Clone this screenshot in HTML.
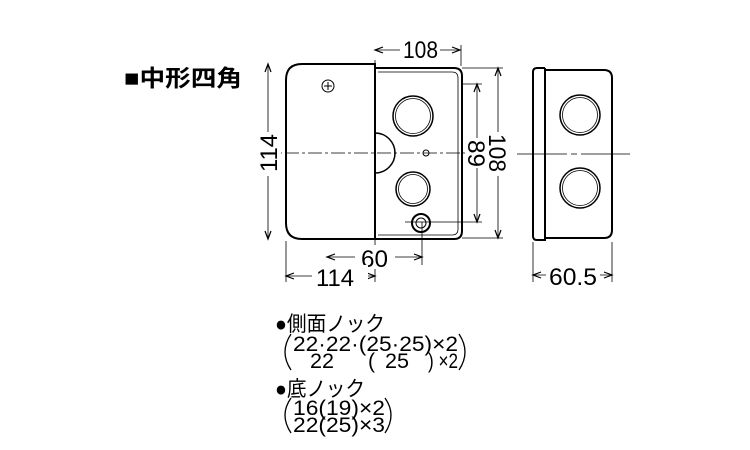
<!DOCTYPE html>
<html><head><meta charset="utf-8"><style>
body{margin:0;background:#fff;width:750px;height:450px;overflow:hidden}
svg{display:block}
text{font-family:"Liberation Sans","Noto Sans CJK JP",sans-serif;fill:#000}
</style></head><body>
<svg width="750" height="450" viewBox="0 0 750 450" xmlns="http://www.w3.org/2000/svg">
<text x="124" y="86" font-size="23" font-weight="bold" textLength="118" lengthAdjust="spacingAndGlyphs">■中形四角</text>
<g fill="none" stroke="#000">
<path d="M375,68H454Q462,68 462,76V231Q462,239 454,239H375" stroke-width="2"/>
<path d="M378,72H452Q458,72 458,78V229Q458,235 452,235H378" stroke-width="0.8"/>
<circle cx="413" cy="116" r="20" stroke-width="1.5"/><circle cx="413" cy="116" r="17.5" stroke-width="0.8"/>
<circle cx="413" cy="189" r="17" stroke-width="1.5"/><circle cx="413" cy="189" r="14.5" stroke-width="0.8"/>
<path d="M375,133A20,20 0 0 1 375,173" stroke-width="1.5"/>
<circle cx="426" cy="153" r="3"/>
<circle cx="421" cy="223" r="9" stroke-width="2"/><circle cx="421" cy="223" r="5"/>
<path d="M375,64H302Q286,64 286,80V223Q286,239 302,239H375Z" fill="#fff" stroke-width="2"/>
<circle cx="328" cy="86" r="6"/><path d="M324,86h8M328,82v8"/>
<path d="M262,153H466" stroke-width="0.8" stroke-dasharray="14,3,3,3"/>
<path d="M461,45V66M462,68H503M462,238H503M462,84H482M405,222H482M422,222V265M286,241V282M375,60V282M533,242V282M612,242V282" stroke-width="0.8"/>
<path d="M375,50H460M268,64V239M477,84V222M498,68V238M327,257H422M286,276H375M533,275H612" stroke-width="0.8"/>
<g stroke-width="1.2">
<path d="M383,47L375,50L383,53M452,47L460,50L452,53"/>
<path d="M265,72L268,64L271,72M265,231L268,239L271,231"/>
<path d="M474,92L477,84L480,92M474,214L477,222L480,214"/>
<path d="M495,76L498,68L501,76M495,230L498,238L501,230"/>
<path d="M335,254L327,257L335,260M414,254L422,257L414,260"/>
<path d="M294,273L286,276L294,279M367,273L375,276L367,279"/>
<path d="M541,272L533,275L541,278M604,272L612,275L604,278"/>
</g>
<path d="M545,70H604Q612,70 612,78V230Q612,238 604,238H545" stroke-width="2"/>
<path d="M545,68V240H537Q533,240 533,236V72Q533,68 537,68H545" fill="#fff" stroke-width="2"/>
<circle cx="580" cy="115" r="20" stroke-width="1.5"/><circle cx="580" cy="115" r="17.5" stroke-width="0.8"/>
<circle cx="580" cy="188" r="20" stroke-width="1.5"/><circle cx="580" cy="188" r="17.5" stroke-width="0.8"/>
<path d="M517,154H630" stroke-width="0.8" stroke-dasharray="50,4,6,4"/>
<path d="M291,334Q279,352 291,370M459,334Q471,352 459,370M291,398Q279,415 291,433M385,398Q397,415 385,433" stroke-width="1.3"/>
</g>
<g font-size="24">
<rect x="400" y="37" width="40" height="24" fill="#fff"/><text x="403" y="58" textLength="35" lengthAdjust="spacingAndGlyphs">108</text>
<rect x="355" y="245" width="40" height="24" fill="#fff"/><text x="361" y="267" textLength="27" lengthAdjust="spacingAndGlyphs">60</text>
<rect x="312" y="265" width="56" height="24" fill="#fff"/><text x="316" y="286" textLength="38" lengthAdjust="spacingAndGlyphs">114</text>
<rect x="546" y="264" width="54" height="24" fill="#fff"/><text x="549" y="285" textLength="48" lengthAdjust="spacingAndGlyphs">60.5</text>
<rect x="257" y="132" width="24" height="44" fill="#fff"/><text transform="translate(277,172) rotate(-90)" textLength="38" lengthAdjust="spacingAndGlyphs">114</text>
<rect x="465" y="138" width="24" height="30" fill="#fff"/><text transform="translate(468,140) rotate(90)" textLength="27" lengthAdjust="spacingAndGlyphs">89</text>
<rect x="486" y="132" width="24" height="44" fill="#fff"/><text transform="translate(489,134) rotate(90)" textLength="38" lengthAdjust="spacingAndGlyphs">108</text>
</g>
<g font-size="21">
<text x="275" y="331" textLength="110" lengthAdjust="spacingAndGlyphs">●側面ノック</text>
<text x="293" y="351" textLength="165" lengthAdjust="spacingAndGlyphs">22·22·(25·25)×2</text>
<text x="310" y="368" textLength="24" lengthAdjust="spacingAndGlyphs">22</text><text x="368" y="368">(</text><text x="385" y="368" textLength="24" lengthAdjust="spacingAndGlyphs">25</text><text x="428" y="368" textLength="30" lengthAdjust="spacingAndGlyphs">) ×2</text>
<text x="275" y="396" textLength="90" lengthAdjust="spacingAndGlyphs">●底ノック</text>
<text x="293" y="415" textLength="92" lengthAdjust="spacingAndGlyphs">16(19)×2</text>
<text x="293" y="432" textLength="92" lengthAdjust="spacingAndGlyphs">22(25)×3</text>
</g>
</svg>
</body></html>
